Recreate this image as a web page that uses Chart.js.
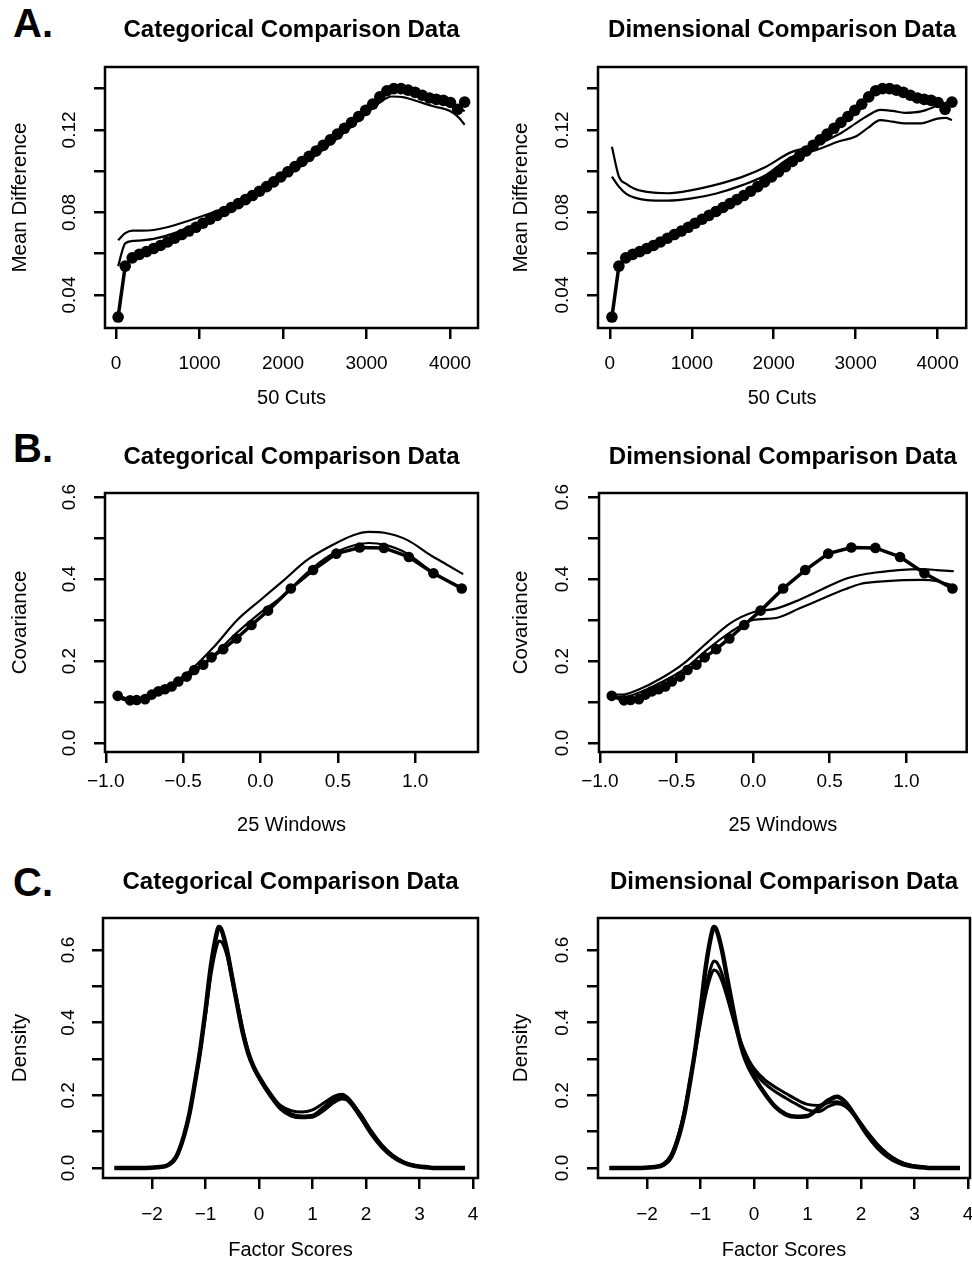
<!DOCTYPE html>
<html>
<head>
<meta charset="utf-8">
<title>Comparison curves</title>
<script src="https://cdn.jsdelivr.net/npm/chart.js@4.4.1/dist/chart.umd.min.js"></script>
<style>
  body { margin: 0; background: #fff; width: 972px; height: 1262px; position: relative; overflow: hidden;
         font-family: "Liberation Sans", Arial, Helvetica, sans-serif; }
  .panel { position: absolute; }
  .tag { position: absolute; left: 13px; font-weight: bold; font-size: 40px; line-height: 40px; color: #000; }
</style>
</head>
<body>
<div class="tag" style="top:3px">A.</div>
<div class="tag" style="top:428px">B.</div>
<div class="tag" style="top:862px">C.</div>

<div class="panel" style="left:0;top:0;width:486px;height:420px"><canvas id="aCat"></canvas></div>
<div class="panel" style="left:486px;top:0;width:486px;height:420px"><canvas id="aDim"></canvas></div>
<div class="panel" style="left:0;top:420px;width:486px;height:430px"><canvas id="bCat"></canvas></div>
<div class="panel" style="left:486px;top:420px;width:486px;height:430px"><canvas id="bDim"></canvas></div>
<div class="panel" style="left:0;top:850px;width:486px;height:412px"><canvas id="cCat"></canvas></div>
<div class="panel" style="left:486px;top:850px;width:486px;height:412px"><canvas id="cDim"></canvas></div>

<script>
// ---- A: mean difference over 50 cuts ----
var aCutX = [25, 110, 194, 279, 364, 449, 533, 618, 703, 787, 872, 957, 1041, 1126, 1211, 1296, 1380, 1465, 1550, 1634,
             1719, 1804, 1888, 1973, 2058, 2143, 2227, 2312, 2397, 2481, 2566, 2651, 2735, 2820, 2905, 2990, 3074, 3159, 3244, 3328,
             3413, 3498, 3582, 3667, 3752, 3837, 3921, 4006, 4091, 4175];
var aEmpirical = [0.0293, 0.0540, 0.0580, 0.0597, 0.0610, 0.0625, 0.0640, 0.0657, 0.0675, 0.0693,
                  0.0710, 0.0728, 0.0748, 0.0767, 0.0786, 0.0805, 0.0824, 0.0843, 0.0862, 0.0882,
                  0.0903, 0.0925, 0.0948, 0.0972, 0.0997, 0.1022, 0.1047, 0.1072, 0.1098, 0.1125,
                  0.1152, 0.1180, 0.1208, 0.1236, 0.1265, 0.1295, 0.1325, 0.1360, 0.1390, 0.1400,
                  0.1400, 0.1393, 0.1382, 0.1368, 0.1355, 0.1348, 0.1343, 0.1333, 0.1300, 0.1335];
var aSimX = [25, 110, 200, 300, 450, 700, 1000, 1300, 1600, 1900, 2200, 2500, 2800, 3000, 3150, 3300, 3450, 3600, 3800, 4000, 4100, 4175];
var aCatSim1 = [0.0665, 0.0700, 0.0712, 0.0712, 0.0715, 0.0738, 0.0778, 0.0822, 0.0875, 0.0940, 0.1020,
                0.1110, 0.1210, 0.1280, 0.1330, 0.1362, 0.1358, 0.1340, 0.1315, 0.1292, 0.1262, 0.1225];
var aCatSim2 = [0.0540, 0.0650, 0.0662, 0.0665, 0.0672, 0.0700, 0.0752, 0.0808, 0.0872, 0.0945, 0.1030,
                0.1125, 0.1225, 0.1295, 0.1345, 0.1385, 0.1385, 0.1370, 0.1345, 0.1325, 0.1310, 0.1290];
var aDimSim1 = [0.1119, 0.0974, 0.0938, 0.0915, 0.0900, 0.0893, 0.0908, 0.0935, 0.0970, 0.1020, 0.1090,
                0.1125, 0.1180, 0.1232, 0.1270, 0.1297, 0.1292, 0.1283, 0.1290, 0.1318, 0.1332, 0.1337];
var aDimSim2 = [0.0974, 0.0925, 0.0890, 0.0872, 0.0860, 0.0857, 0.0868, 0.0892, 0.0930, 0.0980, 0.1065,
                0.1100, 0.1145, 0.1168, 0.1210, 0.1248, 0.1240, 0.1232, 0.1232, 0.1255, 0.1258, 0.1248];
var aXTicks = [0, 1000, 2000, 3000, 4000];
var aXLabels = ['0', '1000', '2000', '3000', '4000'];
var aYTicks = [0.04, 0.06, 0.08, 0.10, 0.12, 0.14];
var aYLabels = ['0.04', '', '0.08', '', '0.12', ''];

// ---- B: covariance over 25 windows ----
var bWinX = [-0.923, -0.843, -0.800, -0.746, -0.703, -0.660, -0.617, -0.574, -0.531, -0.477, -0.428, -0.370, -0.316,
             -0.241, -0.155, -0.058, 0.049, 0.196, 0.340, 0.490, 0.641, 0.798, 0.959, 1.118, 1.301];
var bEmpirical = [0.115, 0.104, 0.105, 0.107, 0.118, 0.126, 0.131, 0.138, 0.150, 0.162, 0.178, 0.191, 0.209,
                  0.229, 0.255, 0.288, 0.323, 0.377, 0.422, 0.462, 0.477, 0.476, 0.454, 0.414, 0.377];
var bSimX = [-0.92, -0.85, -0.75, -0.6, -0.45, -0.3, -0.15, 0.0, 0.15, 0.3, 0.45, 0.6, 0.7, 0.8, 0.95, 1.1, 1.2, 1.31];
var bCatSim1 = [0.1135, 0.105, 0.109, 0.138, 0.178, 0.235, 0.300, 0.349, 0.397, 0.446, 0.480, 0.507, 0.515, 0.513, 0.495, 0.458, 0.436, 0.412];
var bCatSim2 = [0.110, 0.102, 0.108, 0.135, 0.165, 0.215, 0.270, 0.318, 0.360, 0.415, 0.458, 0.482, 0.488, 0.484, 0.462, 0.420, 0.398, 0.378];
var bDimSim1 = [0.118, 0.118, 0.130, 0.158, 0.195, 0.245, 0.292, 0.319, 0.328, 0.349, 0.375, 0.400, 0.410, 0.416, 0.422, 0.424, 0.422, 0.419];
var bDimSim2 = [0.113, 0.112, 0.122, 0.148, 0.180, 0.228, 0.270, 0.300, 0.305, 0.328, 0.352, 0.375, 0.388, 0.393, 0.397, 0.398, 0.395, 0.384];
var bXTicks = [-1.0, -0.5, 0.0, 0.5, 1.0];
var bXLabels = ['\u22121.0', '\u22120.5', '0.0', '0.5', '1.0'];
var bYTicks = [0.0, 0.1, 0.2, 0.3, 0.4, 0.5, 0.6];
var bYLabels = ['0.0', '', '0.2', '', '0.4', '', '0.6'];

// ---- C: density of factor scores ----
var cScoreX = [-2.7, -2.2, -1.9, -1.7, -1.55, -1.4, -1.3, -1.2, -1.1, -1.0, -0.9, -0.8, -0.75, -0.7, -0.6, -0.5, -0.4, -0.3, -0.2, -0.1,
               0.0, 0.2, 0.4, 0.6, 0.8, 1.0, 1.2, 1.4, 1.55, 1.7, 1.9, 2.1, 2.3, 2.5, 2.7, 2.9, 3.2, 3.5, 3.85];
var cEmpirical = [0.000, 0.000, 0.002, 0.008, 0.030, 0.090, 0.150, 0.233, 0.324, 0.435, 0.555, 0.640, 0.663, 0.655, 0.600, 0.522, 0.444, 0.370, 0.315, 0.278,
                  0.251, 0.205, 0.168, 0.147, 0.141, 0.143, 0.164, 0.187, 0.196, 0.182, 0.141, 0.095, 0.058, 0.032, 0.015, 0.006, 0.001, 0.000, 0.000];
var cCatSim1 = [0.000, 0.000, 0.002, 0.009, 0.032, 0.092, 0.152, 0.232, 0.318, 0.420, 0.530, 0.605, 0.625, 0.622, 0.585, 0.515, 0.440, 0.368, 0.313, 0.275,
                0.246, 0.200, 0.172, 0.158, 0.154, 0.160, 0.178, 0.197, 0.203, 0.188, 0.146, 0.098, 0.060, 0.033, 0.016, 0.007, 0.001, 0.000, 0.000];
var cCatSim2 = [0.000, 0.000, 0.002, 0.007, 0.028, 0.088, 0.148, 0.230, 0.322, 0.432, 0.550, 0.636, 0.658, 0.652, 0.602, 0.528, 0.452, 0.380, 0.322, 0.280,
                0.250, 0.200, 0.162, 0.143, 0.138, 0.140, 0.157, 0.180, 0.190, 0.184, 0.148, 0.102, 0.063, 0.035, 0.017, 0.007, 0.001, 0.000, 0.000];
var cDimSim1 = [0.000, 0.001, 0.003, 0.010, 0.035, 0.095, 0.155, 0.235, 0.320, 0.410, 0.495, 0.555, 0.570, 0.567, 0.535, 0.482, 0.425, 0.372, 0.330, 0.298,
                0.274, 0.243, 0.222, 0.205, 0.188, 0.175, 0.172, 0.180, 0.182, 0.172, 0.140, 0.100, 0.064, 0.037, 0.019, 0.008, 0.002, 0.000, 0.000];
var cDimSim2 = [0.000, 0.001, 0.003, 0.011, 0.036, 0.097, 0.158, 0.238, 0.318, 0.400, 0.478, 0.532, 0.545, 0.542, 0.515, 0.468, 0.415, 0.365, 0.322, 0.290,
                0.265, 0.232, 0.210, 0.192, 0.175, 0.160, 0.155, 0.170, 0.177, 0.170, 0.142, 0.103, 0.067, 0.039, 0.020, 0.009, 0.002, 0.000, 0.000];
var cXTicks = [-2, -1, 0, 1, 2, 3, 4];
var cXLabels = ['\u22122', '\u22121', '0', '1', '2', '3', '4'];
var cYTicks = [0.0, 0.1, 0.2, 0.3, 0.4, 0.5, 0.6];
var cYLabels = ['0.0', '', '0.2', '', '0.4', '', '0.6'];

var FONT = '"Liberation Sans", Arial, Helvetica, sans-serif';
Chart.defaults.font.family = FONT;
Chart.defaults.color = '#000';

function pts(xs, ys) {
  return xs.map(function (x, i) { return { x: x, y: ys[i] }; });
}
function dotted(xs, ys, r) {
  return { data: pts(xs, ys), borderColor: '#000', backgroundColor: '#000', borderWidth: 3.5,
           pointRadius: r, pointBorderWidth: 0, pointBackgroundColor: '#000', tension: 0 };
}
function smooth(xs, ys, w) {
  return { data: pts(xs, ys), borderColor: '#000', borderWidth: w, pointRadius: 0,
           cubicInterpolationMode: 'monotone', tension: 0.4 };
}

// box around the plot region, like R's box()
var boxPlugin = {
  id: 'rbox',
  afterDatasetsDraw: function (chart) {
    var a = chart.chartArea, ctx = chart.ctx;
    ctx.save();
    ctx.lineWidth = 2.5;
    ctx.strokeStyle = '#000';
    ctx.strokeRect(a.left, a.top, a.right - a.left, a.bottom - a.top);
    ctx.restore();
  }
};

function panel(id, p) {
  var grid = { drawOnChartArea: false, drawTicks: true, tickLength: 11, lineWidth: 2.5, color: '#000' };
  new Chart(document.getElementById(id), {
    type: 'line',
    data: { datasets: p.datasets },
    options: {
      responsive: true, maintainAspectRatio: false, animation: false,
      layout: { padding: { left: 0, top: 0, bottom: 0, right: p.padRight } },
      plugins: {
        legend: { display: false }, tooltip: { enabled: false },
        title: { display: true, text: p.title, fullSize: false, color: '#000',
                 font: { size: 24, weight: 'bold', family: FONT, lineHeight: 1.2 },
                 padding: { top: p.titleTop, bottom: p.titleBottom } }
      },
      scales: {
        x: {
          type: 'linear', min: p.xMin, max: p.xMax,
          afterBuildTicks: function (s) { s.ticks = p.xTicks.map(function (v) { return { value: v }; }); },
          afterFit: function (s) { s.height = p.xHeight; s.paddingLeft = 0; s.paddingRight = 0; },
          grid: grid, border: { display: false },
          ticks: { autoSkip: false, maxRotation: 0, padding: p.xTickPad, color: '#000',
                   font: { size: 19, family: FONT, lineHeight: 1.2 },
                   callback: function (v, i) { return p.xLabels[i]; } },
          title: { display: true, text: p.xTitle, color: '#000', font: { size: 20, family: FONT, lineHeight: 1.2 },
                   padding: { top: 0, bottom: p.xTitlePad } }
        },
        y: {
          type: 'linear', min: p.yMin, max: p.yMax,
          afterBuildTicks: function (s) { s.ticks = p.yTicks.map(function (v) { return { value: v }; }); },
          afterFit: function (s) { s.width = p.yWidth; s.paddingTop = 0; s.paddingBottom = 0; },
          grid: grid, border: { display: false },
          ticks: { autoSkip: false, minRotation: 90, maxRotation: 90, crossAlign: 'center', padding: p.yTickPad, color: '#000',
                   font: { size: 19, family: FONT, lineHeight: 1.2 },
                   callback: function (v, i) { return p.yLabels[i]; } },
          title: { display: true, text: p.yTitle, color: '#000', font: { size: 20.5, family: FONT, lineHeight: 1.2 },
                   padding: { top: p.yTitlePad, bottom: 0 } }
        }
      }
    },
    plugins: [boxPlugin]
  });
}

var rowA = { xHeight: 92, titleTop: 15.6, titleBottom: 22.6, xTickPad: 13, xTitlePad: 10,
             xTicks: aXTicks, xLabels: aXLabels, yTicks: aYTicks, yLabels: aYLabels,
             yMin: 0.024, yMax: 0.1505, xTitle: '50 Cuts', yTitle: 'Mean Difference' };
var rowB = { xHeight: 98, titleTop: 22.6, titleBottom: 21.6, xTickPad: 7.5, xTitlePad: 13,
             xTicks: bXTicks, xLabels: bXLabels, yTicks: bYTicks, yLabels: bYLabels,
             yMin: -0.022, yMax: 0.61, xTitle: '25 Windows', yTitle: 'Covariance' };
var rowC = { xHeight: 84, titleTop: 17.6, titleBottom: 21.6, xTickPad: 14.5, xTitlePad: 0,
             xTicks: cXTicks, xLabels: cXLabels, yTicks: cYTicks, yLabels: cYLabels,
             yMin: -0.0275, yMax: 0.688, xTitle: 'Factor Scores', yTitle: 'Density' };

function merge(a, b) { var o = {}, k; for (k in a) o[k] = a[k]; for (k in b) o[k] = b[k]; return o; }

panel('aCat', merge(rowA, { title: 'Categorical Comparison Data', padRight: 8, yWidth: 105, yTickPad: 6, yTitlePad: 8,
  xMin: -132, xMax: 4335,
  datasets: [dotted(aCutX, aEmpirical, 5.8), smooth(aSimX, aCatSim1, 2.2), smooth(aSimX, aCatSim2, 2.2)] }));
panel('aDim', merge(rowA, { title: 'Dimensional Comparison Data', padRight: 1, yWidth: 112, yTickPad: 5.5, yTitlePad: 23.5,
  xMin: -145, xMax: 4349,
  datasets: [dotted(aCutX, aEmpirical, 5.8), smooth(aSimX, aDimSim1, 2.2), smooth(aSimX, aDimSim2, 2.2)] }));
panel('bCat', merge(rowB, { title: 'Categorical Comparison Data', padRight: 8, yWidth: 105, yTickPad: 11.3, yTitlePad: 8,
  xMin: -1.005, xMax: 1.406,
  datasets: [dotted(bWinX, bEmpirical, 5.3), smooth(bSimX, bCatSim1, 2.2), smooth(bSimX, bCatSim2, 2.2)] }));
panel('bDim', merge(rowB, { title: 'Dimensional Comparison Data', padRight: 1, yWidth: 113, yTickPad: 12.3, yTitlePad: 23.5,
  xMin: -1.006, xMax: 1.394,
  datasets: [dotted(bWinX, bEmpirical, 5.3), smooth(bSimX, bDimSim1, 2.2), smooth(bSimX, bDimSim2, 2.2)] }));
panel('cCat', merge(rowC, { title: 'Categorical Comparison Data', padRight: 8, yWidth: 103, yTickPad: 10.3, yTitlePad: 8,
  xMin: -2.916, xMax: 4.093,
  datasets: [smooth(cScoreX, cEmpirical, 4.5), smooth(cScoreX, cCatSim1, 3), smooth(cScoreX, cCatSim2, 3)] }));
panel('cDim', merge(rowC, { title: 'Dimensional Comparison Data', padRight: 2, yWidth: 112, yTickPad: 10.8, yTitlePad: 23.5,
  xMin: -2.916, xMax: 4.037,
  datasets: [smooth(cScoreX, cEmpirical, 4.5), smooth(cScoreX, cDimSim1, 3), smooth(cScoreX, cDimSim2, 3)] }));
</script>
</body>
</html>
